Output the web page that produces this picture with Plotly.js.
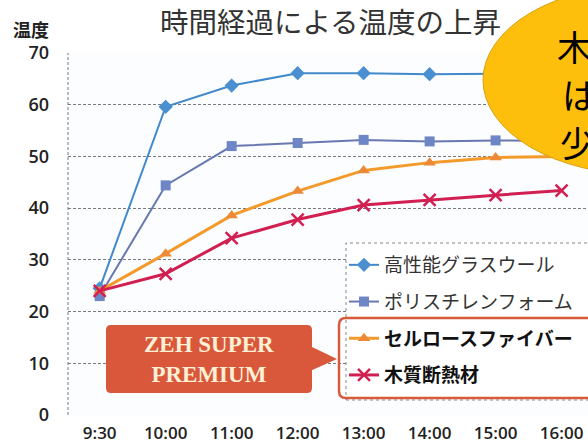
<!DOCTYPE html>
<html>
<head>
<meta charset="utf-8">
<script src="https://cdn.plot.ly/plotly-3.0.1.min.js"></script>
<style>html,body{margin:0;padding:0;background:#fff;}#chart{width:588px;height:443px;}</style>
</head>
<body>
<div id="chart"></div>
<script>
// ---- data ----
const times = ['9:30','10:00','11:00','12:00','13:00','14:00','15:00','16:00'];
const glassWool   = [24.5, 59.6, 63.7, 66.1, 66.1, 65.9, 66.0, 66.0];
const polystyrene = [23.0, 44.4, 52.0, 52.6, 53.2, 52.9, 53.1, 53.0];
const cellulose   = [24.0, 31.2, 38.6, 43.3, 47.3, 48.8, 49.8, 50.0];
const woodFiber   = [24.0, 27.3, 34.2, 37.8, 40.6, 41.6, 42.5, 43.4];
const seriesNames = ['高性能グラスウール','ポリスチレンフォーム','セルロースファイバー','木質断熱材'];
const yTicks = [0,10,20,30,40,50,60,70];

// ---- pixel -> paper helpers (layout only) ----
const L = 68, R = 588, T = 53, B = 415;
const px = v => (v - L) / (R - L);
const py = v => (B - v) / (B - T);

const traces = [
  {x: times, y: glassWool, name: '<span style="color:#333">' + seriesNames[0] + '</span>', legendgroup: 'a',
   mode: 'lines+markers', line: {color: '#4189ca', width: 2},
   marker: {symbol: 'diamond', size: 11, color: '#4a90d0'}},
  {x: times, y: polystyrene, name: '<span style="color:#333">' + seriesNames[1] + '</span>', legendgroup: 'b',
   mode: 'lines+markers', line: {color: '#6878b0', width: 2},
   marker: {symbol: 'square', size: 10, color: '#6f86c6'}},
  {x: times, y: cellulose, name: '<b>' + seriesNames[2] + '</b>', legendgroup: 'c',
   mode: 'lines+markers', line: {color: '#f39a2a', width: 3},
   marker: {symbol: 'triangle-up', size: 11, color: '#ec8a38'}},
  {x: times, y: woodFiber, name: '<b>' + seriesNames[3] + '</b>', legendgroup: 'd',
   mode: 'lines+markers', line: {color: '#d21f52', width: 3},
   marker: {symbol: 'x-thin-open', size: 12, color: '#d21f52', line: {color: '#d21f52', width: 2.5}}}
];

const rr = (x0, y0, x1, y1, r) => {
  const P = (x, y) => px(x) + ',' + py(y);
  return 'M' + P(x0 + r, y0) + ' L' + P(x1 - r, y0) + ' Q' + P(x1, y0) + ' ' + P(x1, y0 + r) +
         ' L' + P(x1, y1 - r) + ' Q' + P(x1, y1) + ' ' + P(x1 - r, y1) +
         ' L' + P(x0 + r, y1) + ' Q' + P(x0, y1) + ' ' + P(x0, y1 - r) +
         ' L' + P(x0, y0 + r) + ' Q' + P(x0, y0) + ' ' + P(x0 + r, y0) + ' Z';
};

const note = (text, x, y, font, xa) => ({text: text, xref: 'paper', yref: 'paper', x: px(x), y: py(y),
  xanchor: xa || 'center', yanchor: 'middle', showarrow: false, font: font});

const layout = {
  width: 588, height: 443,
  margin: {l: L, r: 588 - R, t: T, b: 443 - B},
  paper_bgcolor: '#ffffff', plot_bgcolor: '#fcfdff',
  showlegend: true,
  title: {text: '時間経過による温度の上昇', x: 0.562, xanchor: 'center', y: 0.948, yanchor: 'middle',
          font: {family: 'Noto Sans CJK JP', size: 28.5, color: '#333'}},
  xaxis: {type: 'category', range: [-0.48, 7.4], showgrid: false, zeroline: false, showline: false,
          ticks: '', automargin: false, ticklabelstandoff: 6,
          tickfont: {family: 'Open Sans', size: 17, weight: 600, color: '#222'}},
  yaxis: {range: [0, 70], tickvals: yTicks, showgrid: true, gridcolor: '#7a7a7a', griddash: '3px,2px', gridwidth: 1,
          zeroline: false, showline: false, ticks: '', automargin: false, ticklabelstandoff: 18,
          tickfont: {family: 'Open Sans', size: 18, weight: 600, color: '#222'}},
  legend: {x: px(344), y: py(246), xanchor: 'left', yanchor: 'top', bgcolor: 'rgba(0,0,0,0)', borderwidth: 0,
           tracegroupgap: 9, traceorder: 'grouped',
           font: {family: 'Noto Sans CJK JP', size: 19, color: '#111'}},
  shapes: [
    {type: 'line', xref: 'paper', yref: 'paper', x0: 0, x1: 0, y0: 0, y1: 1, layer: 'above',
     line: {color: '#7a7a7a', width: 1, dash: '3px,2px'}},
    {type: 'rect', xref: 'paper', yref: 'paper', x0: px(346), x1: px(592), y0: py(400), y1: py(243), layer: 'above',
     fillcolor: '#ffffff', line: {color: '#888', width: 1, dash: 'dot'}},
    {type: 'path', xref: 'paper', yref: 'paper', layer: 'above', path: rr(339, 318, 596, 398, 7),
     fillcolor: 'rgba(0,0,0,0)', line: {color: '#d65a3c', width: 2.5}},
    {type: 'path', xref: 'paper', yref: 'paper', layer: 'above', path: rr(106, 325, 312, 393, 5),
     fillcolor: '#d9573b', line: {width: 0}},
    {type: 'path', xref: 'paper', yref: 'paper', layer: 'above',
     path: 'M' + px(310) + ',' + py(346) + ' L' + px(337) + ',' + py(359) + ' L' + px(310) + ',' + py(371) + ' Z',
     fillcolor: '#d9573b', line: {width: 0}},
    {type: 'circle', xref: 'paper', yref: 'paper', layer: 'above',
     x0: px(483), x1: px(807), y0: py(175), y1: py(-15),
     fillcolor: '#fdbf0c', line: {color: '#d9a010', width: 1}}
  ],
  annotations: [
    note('<b>温度</b>', 31, 29, {family: 'Noto Sans CJK JP', size: 18, color: '#222'}),
    note('<b>ZEH SUPER<br>PREMIUM</b>', 209, 359, {family: 'Liberation Serif', size: 23, color: '#fdf0d5'}),
    note('木', 555, 45, {family: 'Noto Sans CJK JP', size: 35, color: '#000'}, 'left'),
    note('は', 560, 93, {family: 'Noto Sans CJK JP', size: 35, color: '#000'}, 'left'),
    note('少', 558, 141, {family: 'Noto Sans CJK JP', size: 35, color: '#000'}, 'left')
  ]
};

Plotly.newPlot('chart', traces, layout, {displayModeBar: false, staticPlot: true});
</script>
</body>
</html>
